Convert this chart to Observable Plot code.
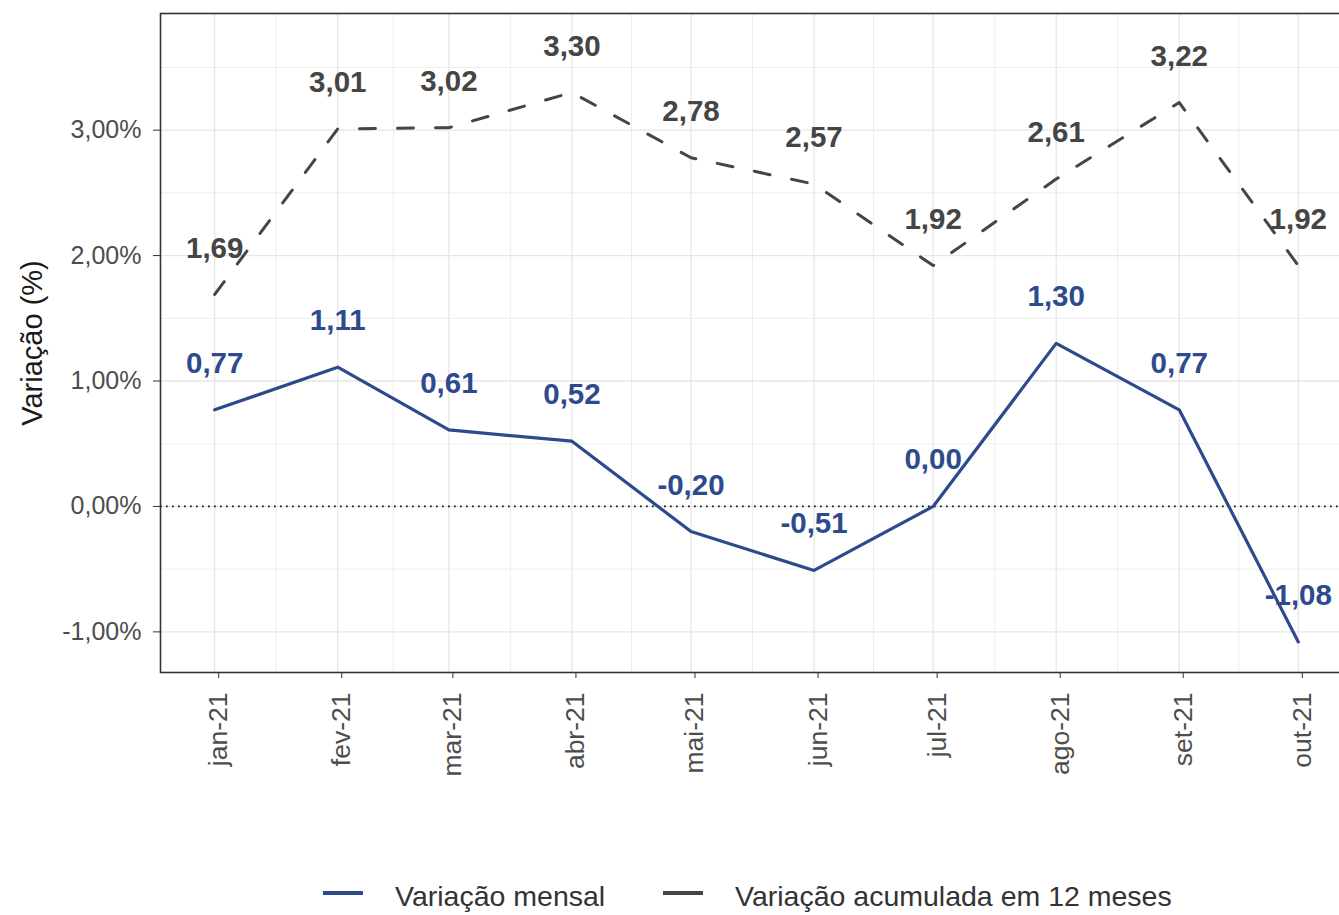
<!DOCTYPE html>
<html><head><meta charset="utf-8">
<script src="https://cdn.jsdelivr.net/npm/d3@7"></script>
<script src="https://cdn.jsdelivr.net/npm/@observablehq/plot@0.6"></script>
<style>
body{margin:0;background:#fff;font-family:"Liberation Sans",Arial,sans-serif;}
#wrap{position:relative;width:1339px;height:915px;overflow:hidden;background:#fff;}
#chart{position:absolute;left:0;top:0;width:1352px;}
.sw{position:absolute;height:4px;width:40px;}
.lt{position:absolute;font-size:28.5px;color:#333;white-space:nowrap;line-height:1;}
</style></head><body>
<div id="wrap"><div id="chart"></div><div id="legend"></div></div>
<script>
// ---- data ----
const monthLabels = ["jan-21","fev-21","mar-21","abr-21","mai-21","jun-21","jul-21","ago-21","set-21","out-21"];
const monthIndex = [0,1,2,3,4,5,6,7,8,9];
const mensal    = [0.77, 1.11, 0.61, 0.52, -0.20, -0.51, 0.00, 1.30, 0.77, -1.08];
const acumulada = [1.69, 3.01, 3.02, 3.30, 2.78, 2.57, 1.92, 2.61, 3.22, 1.92];
const seriesNames = ["Variação mensal", "Variação acumulada em 12 meses"];
const yTicks = [-1, 0, 1, 2, 3];
const yMinor = [-0.5, 0.5, 1.5, 2.5, 3.5];
const yTitle = "Variação (%)";

// ---- styling ----
const BLUE = "#2D4A8C";
const GRAY = "#454545";
const FONT = "'Liberation Sans', Arial, sans-serif";
const NUDGE = 0.37;

const dates = monthIndex.map(m => new Date(Date.UTC(2021, m, 1)));
const dataM = dates.map((d, i) => ({date: d, v: mensal[i]}));
const dataA = dates.map((d, i) => ({date: d, v: acumulada[i]}));
const minorX = dates.slice(1).map((d, i) => new Date((d.getTime() + dates[i].getTime()) / 2));
const span = dates[dates.length - 1] - dates[0];
const xDomain = [new Date(dates[0].getTime() - 0.05 * span), new Date(dates[dates.length - 1].getTime() + 0.05 * span)];
const fmt = v => v.toFixed(2).replace(".", ",");

const chart = Plot.plot({
  width: 1352, height: 800,
  marginLeft: 160, marginRight: 0, marginTop: 13, marginBottom: 128,
  style: {fontFamily: FONT, background: "white", maxWidth: "none"},
  x: {type: "utc", domain: xDomain},
  y: {domain: [-1.324, 3.93]},
  marks: [
    Plot.ruleY(yMinor, {stroke: "#EDEDED", strokeWidth: 1}),
    Plot.ruleX(minorX, {stroke: "#EDEDED", strokeWidth: 1}),
    Plot.ruleY(yTicks, {stroke: "#E6E6E6", strokeWidth: 1.3}),
    Plot.ruleX(dates, {stroke: "#E6E6E6", strokeWidth: 1.3}),
    Plot.ruleY([0], {stroke: "#111", strokeWidth: 1.7, strokeDasharray: "1.7,4.3"}),
    Plot.line(dataA, {x: "date", y: "v", stroke: GRAY, strokeWidth: 3, strokeDasharray: "16,22"}),
    Plot.line(dataM, {x: "date", y: "v", stroke: BLUE, strokeWidth: 3.2}),
    Plot.text(dataA, {x: "date", y: d => d.v + NUDGE, text: d => fmt(d.v), fill: GRAY, fontWeight: "bold", fontSize: 29.5}),
    Plot.text(dataM, {x: "date", y: d => d.v + NUDGE, text: d => fmt(d.v), fill: BLUE, fontWeight: "bold", fontSize: 29.5}),
    Plot.frame({stroke: "#333", strokeWidth: 1.6}),
    Plot.axisY({ticks: yTicks, tickFormat: d => fmt(d) + "%", tickSize: 7, tickPadding: 12, fontSize: 25, stroke: "#333", fill: "#4D4D4D", label: null}),
    Plot.axisX({ticks: dates, tickFormat: d => monthLabels[d.getUTCMonth()], tickRotate: -90, tickSize: 6, tickPadding: 14, fontSize: 26.5, stroke: "#333", fill: "#4D4D4D", label: null, dx: 4}),
    Plot.text([yTitle], {frameAnchor: "left", textAnchor: "middle", dx: -128, rotate: -90, fontSize: 29, fill: "#1a1a1a"})
  ]
});
document.getElementById("chart").appendChild(chart);

// ---- legend ----
const leg = document.getElementById("legend");
const legendItems = [
  {name: seriesNames[0], color: BLUE, sw: 323, tx: 395},
  {name: seriesNames[1], color: GRAY, sw: 663, tx: 735}
];
legendItems.forEach(it => {
  const s = document.createElement("div");
  s.className = "sw"; s.style.left = it.sw + "px"; s.style.top = "891px"; s.style.background = it.color;
  leg.appendChild(s);
  const t = document.createElement("div");
  t.className = "lt"; t.style.left = it.tx + "px"; t.style.top = "882px"; t.textContent = it.name;
  leg.appendChild(t);
});
</script>
</body></html>
